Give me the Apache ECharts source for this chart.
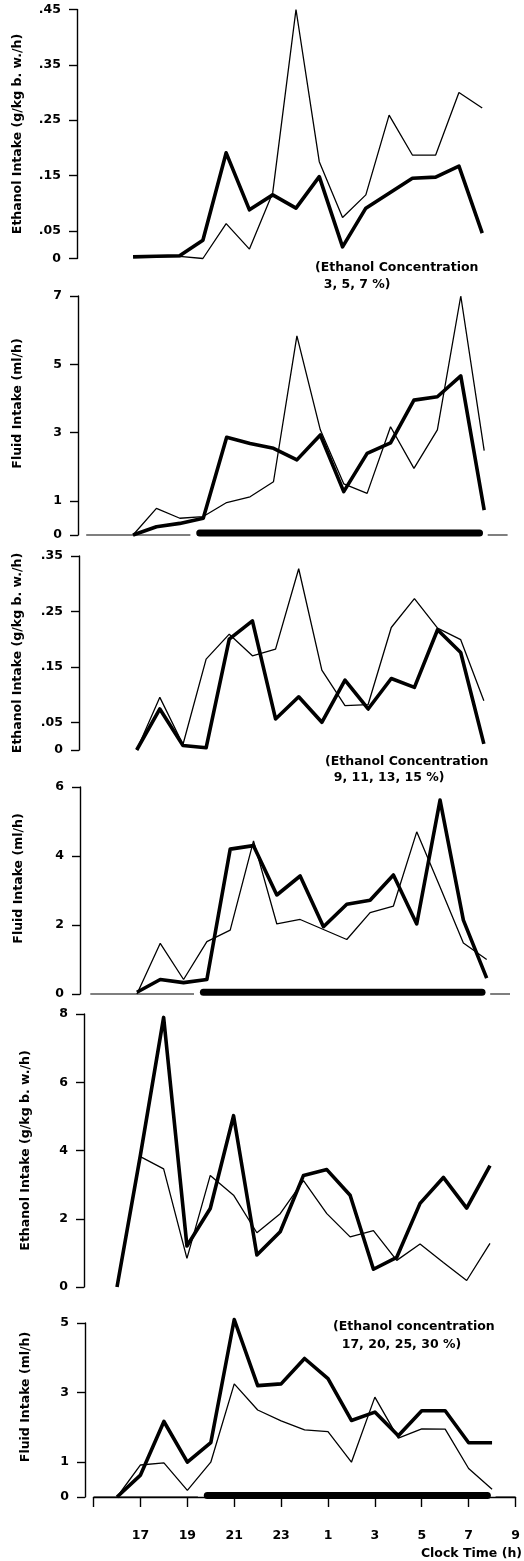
<!DOCTYPE html>
<html>
<head>
<meta charset="utf-8">
<script src="https://cdn.jsdelivr.net/npm/echarts@6/dist/echarts.min.js"></script>
<style>
html, body { margin: 0; padding: 0; background: #fff; }
#chart { width: 524px; height: 1561px; }
</style>
</head>
<body>
<div id="chart"></div>
<script>
// clock hours of the readings
var hours17 = [17, 18, 19, 20, 21, 22, 23, 0, 1, 2, 3, 4, 5, 6, 7, 8];
var hours16 = [16, 17, 18, 19, 20, 21, 22, 23, 0, 1, 2, 3, 4, 5, 6, 7, 8];

// ethanol 3, 5, 7 %
var eth1Thick = [0.003, 0.004, 0.005, 0.033, 0.191, 0.088, 0.115, 0.091, 0.148, 0.021, 0.091, 0.118, 0.145, 0.147, 0.167, 0.046];
var eth1Thin = [0.003, 0.003, 0.004, 0.0, 0.063, 0.017, 0.119, 0.45, 0.175, 0.074, 0.115, 0.259, 0.187, 0.187, 0.3, 0.272];
var fluid1Thick = [0.0, 0.24, 0.34, 0.49, 2.86, 2.68, 2.54, 2.2, 2.93, 1.27, 2.39, 2.7, 3.95, 4.05, 4.66, 0.73];
var fluid1Thin = [0.0, 0.78, 0.49, 0.54, 0.95, 1.12, 1.56, 5.83, 3.08, 1.5, 1.22, 3.17, 1.95, 3.08, 7.0, 2.47];

// ethanol 9, 11, 13, 15 %
var eth2Thick = [0.0, 0.074, 0.008, 0.004, 0.2, 0.233, 0.056, 0.096, 0.05, 0.126, 0.074, 0.129, 0.113, 0.217, 0.176, 0.011];
var eth2Thin = [0.0, 0.095, 0.01, 0.164, 0.209, 0.17, 0.182, 0.327, 0.144, 0.08, 0.082, 0.221, 0.273, 0.22, 0.199, 0.089];
var fluid2Thick = [0.05, 0.42, 0.33, 0.42, 4.2, 4.3, 2.87, 3.42, 1.95, 2.6, 2.72, 3.45, 2.03, 5.62, 2.14, 0.46];
var fluid2Thin = [0.0, 1.47, 0.42, 1.52, 1.85, 4.44, 2.03, 2.16, 1.87, 1.58, 2.36, 2.55, 4.7, 3.1, 1.48, 1.0];

// ethanol 17, 20, 25, 30 %
var eth3Thick = [0.0, 3.85, 7.9, 1.2, 2.3, 5.02, 0.94, 1.62, 3.27, 3.44, 2.69, 0.52, 0.87, 2.45, 3.21, 2.31, 3.56];
var eth3Thin = [0.0, 3.82, 3.46, 0.84, 3.27, 2.69, 1.59, 2.15, 3.12, 2.15, 1.47, 1.65, 0.78, 1.26, 0.72, 0.19, 1.28];
var fluid3Thick = [0.0, 0.63, 2.17, 1.0, 1.56, 5.1, 3.2, 3.25, 3.98, 3.4, 2.2, 2.44, 1.76, 2.48, 2.48, 1.56, 1.56];
var fluid3Thin = [0.0, 0.92, 0.98, 0.19, 1.0, 3.25, 2.5, 2.19, 1.93, 1.88, 1.0, 2.87, 1.69, 1.96, 1.95, 0.82, 0.22];

// tick values
var ethTicksA = [0, 0.05, 0.15, 0.25, 0.35, 0.45];
var ethTicksB = [0, 0.05, 0.15, 0.25, 0.35];
var ethTicksC = [0, 2, 4, 6, 8];
var fluidTicksA = [0, 1, 3, 5, 7];
var fluidTicksB = [0, 2, 4, 6];
var fluidTicksC = [0, 1, 3, 5];
var xTicks = [15, 17, 19, 21, 23, 25, 27, 29, 31, 33];
var xLabels = [17, 19, 21, 23, 25, 27, 29, 31, 33];

// light / dark periods (hours, 24+ = next morning)
var darkPeriod = [19.85, 31.8];
var lightPeriods = [[15, 19.45], [32.15, 33]];

var ETH = 'Ethanol Intake (g/kg b. w./h)';
var FLU = 'Fluid Intake (ml/h)';
var FONT = '"DejaVu Sans", sans-serif';

function toX(h) { return h < 12 ? h + 24 : h; }
function pairs(hours, vals) {
  return hours.map(function (h, i) { return [toX(h), vals[i]]; });
}

var panels = [
  { top: 9.5, height: 249, left: 86.5, width: 419, axisX: 77, max: 0.45, ticks: ethTicksA, name: ETH, gap: 53, shift: 0,
    hours: hours17, thick: eth1Thick, thin: eth1Thin, bar: false },
  { top: 296, height: 239, left: 86.2, width: 421.4, axisX: 78, max: 7, ticks: fluidTicksA, name: FLU, gap: 54, shift: 24,
    hours: hours17, thick: fluid1Thick, thin: fluid1Thin, bar: true },
  { top: 556, height: 194, left: 90.4, width: 416.6, axisX: 79, max: 0.35, ticks: ethTicksB, name: ETH, gap: 55, shift: 0,
    hours: hours17, thick: eth2Thick, thin: eth2Thin, bar: false },
  { top: 787, height: 207, left: 90.3, width: 419.7, axisX: 80, max: 6, ticks: fluidTicksB, name: FLU, gap: 55, shift: 24,
    hours: hours17, thick: fluid2Thick, thin: fluid2Thin, bar: true },
  { top: 1014, height: 273, left: 93.7, width: 419.6, axisX: 84, max: 8, ticks: ethTicksC, name: ETH, gap: 52, shift: 0,
    hours: hours16, thick: eth3Thick, thin: eth3Thin, bar: false },
  { top: 1323, height: 174, left: 93.6, width: 421.9, axisX: 85, max: 5, ticks: fluidTicksC, name: FLU, gap: 53, shift: 26,
    hours: hours16, thick: fluid3Thick, thin: fluid3Thin, bar: true }
];

var grids = [], xAxes = [], yAxes = [], series = [];

panels.forEach(function (p, i) {
  grids.push({ left: p.left, top: p.top, width: p.width, height: p.height, containLabel: false, outerBoundsMode: 'none' });

  var last = i === panels.length - 1;
  xAxes.push({
    type: 'value', gridIndex: i, min: 15, max: 33, show: last, offset: last ? 13 : 0,
    axisLine: { show: true, lineStyle: { color: '#000', width: 1.4 } },
    axisTick: { show: true, length: 10, customValues: xTicks, lineStyle: { color: '#000', width: 1.4 } },
    axisLabel: {
      customValues: xLabels, margin: 19, color: '#000', fontSize: 12.5, fontWeight: 'bold', fontFamily: FONT,
      formatter: function (v) { return String(v % 24); }
    },
    splitLine: { show: false }
  });

  yAxes.push({
    type: 'value', gridIndex: i, min: 0, max: p.max, offset: p.left - p.axisX,
    axisLine: { show: true, lineStyle: { color: '#000', width: 1.4 } },
    axisTick: { show: true, length: 8, customValues: p.ticks, lineStyle: { color: '#000', width: 1.4 } },
    axisLabel: {
      customValues: p.ticks, margin: 16, color: '#000', fontSize: 12.5, fontWeight: 'bold', fontFamily: FONT,
      formatter: function (v) { return v > 0 && v < 1 ? String(v).replace(/^0/, '') : String(v); }
    },
    splitLine: { show: false },
    name: p.name, nameLocation: 'middle', nameGap: p.gap, nameMoveOverlap: false,
    nameTextStyle: { color: '#000', fontSize: 12.5, fontWeight: 'bold', fontFamily: FONT, padding: [0, 0, 0, p.shift] }
  });

  if (p.bar) {
    lightPeriods.forEach(function (seg) {
      series.push({
        type: 'line', xAxisIndex: i, yAxisIndex: i, symbol: 'none', silent: true, clip: false, z: 1,
        data: [[seg[0], 0], [seg[1], 0]],
        lineStyle: { color: '#000', width: 1.2 }
      });
    });
    series.push({
      type: 'line', xAxisIndex: i, yAxisIndex: i, symbol: 'none', silent: true, clip: false, z: 1,
      data: [[darkPeriod[0], p.max * 0.008], [darkPeriod[1], p.max * 0.008]],
      lineStyle: { color: '#000', width: 7, cap: 'round' }
    });
  }

  series.push({
    type: 'line', xAxisIndex: i, yAxisIndex: i, symbol: 'none', clip: false, z: 2,
    data: pairs(p.hours, p.thin),
    lineStyle: { color: '#000', width: 1.3 }
  });
  series.push({
    type: 'line', xAxisIndex: i, yAxisIndex: i, symbol: 'none', clip: false, z: 3,
    data: pairs(p.hours, p.thick),
    lineStyle: { color: '#000', width: 3.6, join: 'round' }
  });
});

function note(x, y, lineH, text) {
  return {
    type: 'text', x: x, y: y,
    style: { text: text, fill: '#000', font: 'bold 12.5px ' + FONT, lineHeight: lineH }
  };
}

var chart = echarts.init(document.getElementById('chart'), null, { renderer: 'canvas' });
chart.setOption({
  backgroundColor: '#fff',
  animation: false,
  grid: grids,
  xAxis: xAxes,
  yAxis: yAxes,
  series: series,
  graphic: [
    note(315, 259.5, 17, '(Ethanol Concentration\n  3, 5, 7 %)'),
    note(325, 754, 16, '(Ethanol Concentration\n  9, 11, 13, 15 %)'),
    note(333, 1318, 18, '(Ethanol concentration\n  17, 20, 25, 30 %)'),
    { type: 'text', right: 2, top: 1547,
      style: { text: 'Clock Time (h)', fill: '#000', font: 'bold 12.5px ' + FONT } }
  ]
});
</script>
</body>
</html>
